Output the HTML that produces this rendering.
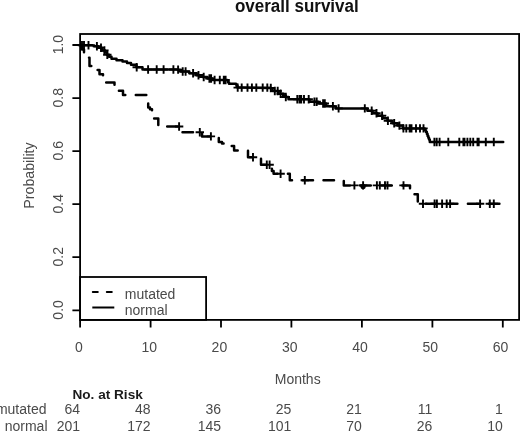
<!DOCTYPE html>
<html><head><meta charset="utf-8"><title>overall survival</title>
<style>html,body{margin:0;padding:0;background:#fff;width:520px;height:431px;overflow:hidden}svg{display:block;will-change:transform}</style>
</head><body>
<svg width="520" height="431" viewBox="0 0 520 431">
<rect width="520" height="431" fill="#fff"/>
<text transform="translate(296.8,11.9) scale(0.945,1)" text-anchor="middle" style="font-family:'Liberation Sans',sans-serif;font-weight:bold;font-size:18px" fill="#111">overall survival</text>
<rect x="80.1" y="34" width="439" height="285.9" fill="none" stroke="#000" stroke-width="1.8"/>
<path d="M72.4,310.3H80.1M72.4,257.2H80.1M72.4,204.2H80.1M72.4,151.1H80.1M72.4,98.1H80.1M72.4,45.0H80.1" stroke="#000" stroke-width="1.8" fill="none"/>
<path d="M80.1,319.9V327.6M150.6,319.9V327.6M221.0,319.9V327.6M291.4,319.9V327.6M361.9,319.9V327.6M432.4,319.9V327.6M502.8,319.9V327.6" stroke="#000" stroke-width="1.8" fill="none"/>
<text transform="translate(63.2,309.9) rotate(-90)" text-anchor="middle" style="font-family:'Liberation Sans',sans-serif;font-size:14px" fill="#4a4a4a">0.0</text>
<text transform="translate(63.2,256.8) rotate(-90)" text-anchor="middle" style="font-family:'Liberation Sans',sans-serif;font-size:14px" fill="#4a4a4a">0.2</text>
<text transform="translate(63.2,203.8) rotate(-90)" text-anchor="middle" style="font-family:'Liberation Sans',sans-serif;font-size:14px" fill="#4a4a4a">0.4</text>
<text transform="translate(63.2,150.7) rotate(-90)" text-anchor="middle" style="font-family:'Liberation Sans',sans-serif;font-size:14px" fill="#4a4a4a">0.6</text>
<text transform="translate(63.2,97.7) rotate(-90)" text-anchor="middle" style="font-family:'Liberation Sans',sans-serif;font-size:14px" fill="#4a4a4a">0.8</text>
<text transform="translate(63.2,44.6) rotate(-90)" text-anchor="middle" style="font-family:'Liberation Sans',sans-serif;font-size:14px" fill="#4a4a4a">1.0</text>
<text x="78.9" y="351.6" text-anchor="middle" style="font-family:'Liberation Sans',sans-serif;font-size:14px" fill="#4a4a4a">0</text>
<text x="149.2" y="351.6" text-anchor="middle" style="font-family:'Liberation Sans',sans-serif;font-size:14px" fill="#4a4a4a">10</text>
<text x="219.4" y="351.6" text-anchor="middle" style="font-family:'Liberation Sans',sans-serif;font-size:14px" fill="#4a4a4a">20</text>
<text x="289.7" y="351.6" text-anchor="middle" style="font-family:'Liberation Sans',sans-serif;font-size:14px" fill="#4a4a4a">30</text>
<text x="360.0" y="351.6" text-anchor="middle" style="font-family:'Liberation Sans',sans-serif;font-size:14px" fill="#4a4a4a">40</text>
<text x="430.2" y="351.6" text-anchor="middle" style="font-family:'Liberation Sans',sans-serif;font-size:14px" fill="#4a4a4a">50</text>
<text x="500.5" y="351.6" text-anchor="middle" style="font-family:'Liberation Sans',sans-serif;font-size:14px" fill="#4a4a4a">60</text>
<text x="297.7" y="384" text-anchor="middle" style="font-family:'Liberation Sans',sans-serif;font-size:14px" fill="#4a4a4a">Months</text>
<text transform="translate(34.1,175.5) rotate(-90)" text-anchor="middle" style="font-family:'Liberation Sans',sans-serif;font-size:14.2px" fill="#4a4a4a">Probability</text>
<path d="M80.0,45.2 L86.0,45.2 L92.0,45.3 L94.2,45.5 L94.2,46.2 L96.5,46.2 L98.2,46.2 L98.2,47.8 L100.0,47.8 L102.0,47.8 L102.0,50.5 L104.0,50.5 L105.0,50.5 L105.0,52.6 L107.0,52.6 L107.0,54.7 L109.0,54.7 L109.0,56.8 L110.0,56.8 L111.5,56.8 L111.5,58.8 L113.0,58.8 L116.5,58.8 L116.5,60.3 L120.0,60.3 L122.5,60.3 L122.5,61.5 L125.0,61.5 L127.0,61.5 L127.0,63.1 L131.0,63.1 L131.0,64.8 L133.0,64.8 L136.5,64.8 L136.5,67.3 L140.0,67.3 L142.5,67.3 L142.5,69.5 L145.0,69.5 L148.0,69.5 L176.0,69.6 L180.8,70.0 L180.8,71.5 L185.6,71.5 L189.3,71.5 L189.3,73.2 L193.1,73.2 L196.6,73.2 L196.6,75.3 L200.0,75.3 L202.5,75.3 L202.5,77.0 L205.0,77.0 L207.5,77.0 L207.5,78.5 L210.0,78.5 L212.5,78.5 L212.5,80.0 L215.0,80.0 L227.5,80.0 L228.0,80.6 L228.0,82.2 L229.0,82.2 L229.0,83.8 L229.5,83.8 L236.0,83.8 L236.5,84.2 L236.5,85.9 L237.5,85.9 L237.5,87.6 L238.0,87.6 L242.0,87.6 L270.0,88.0 L272.5,88.2 L272.5,91.0 L275.0,91.0 L278.5,91.0 L278.5,93.8 L282.0,93.8 L283.2,93.8 L283.2,95.4 L285.8,95.4 L285.8,97.0 L287.0,97.0 L288.5,97.0 L288.5,99.3 L290.0,99.3 L308.0,99.3 L309.5,99.4 L309.5,101.8 L311.0,101.8 L318.0,101.8 L318.0,103.5 L325.0,103.5 L326.2,103.5 L326.2,106.2 L327.5,106.2 L334.0,106.2 L335.8,106.8 L335.8,108.4 L337.5,108.4 L364.8,108.4 L367.4,108.4 L367.4,110.8 L370.0,110.8 L372.5,110.8 L372.5,113.3 L377.5,113.3 L377.5,115.8 L380.0,115.8 L382.5,115.8 L382.5,118.3 L387.5,118.3 L387.5,120.8 L390.0,120.8 L392.5,120.8 L392.5,123.2 L397.5,123.2 L397.5,125.6 L400.0,125.6 L403.0,125.6 L403.0,128.4 L406.0,128.4 L424.5,128.4 L425.0,128.6 L425.0,130.3 L426.0,130.3 L426.0,132.0 L426.5,132.0 L426.9,132.0 L426.9,134.0 L427.6,134.0 L427.6,136.0 L428.0,136.0 L428.3,136.0 L428.3,137.8 L429.0,137.8 L429.0,139.5 L429.3,139.5 L429.8,139.5 L429.8,142.0 L430.3,142.0 L503.2,142.0" stroke="#000" stroke-width="2.5" fill="none" stroke-linejoin="round" stroke-linecap="round"/>
<path d="M82.0,41.0V49.4M77.8,45.2H86.2M84.0,41.0V49.4M79.8,45.2H88.2M88.5,41.0V49.4M84.3,45.2H92.7M96.9,42.0V50.4M92.7,46.2H101.1M101.0,43.6V52.0M96.8,47.8H105.2M104.4,46.3V54.7M100.2,50.5H108.6M107.3,50.5V58.9M103.1,54.7H111.5M136.7,63.1V71.5M132.5,67.3H140.9M148.1,65.3V73.7M143.9,69.5H152.3M156.7,65.3V73.7M152.5,69.5H160.9M163.6,65.3V73.7M159.4,69.5H167.8M173.4,65.3V73.7M169.2,69.5H177.6M178.1,65.4V73.8M173.9,69.6H182.3M182.7,67.3V75.7M178.5,71.5H186.9M185.6,67.3V75.7M181.4,71.5H189.8M193.1,69.0V77.4M188.9,73.2H197.3M198.5,71.1V79.5M194.3,75.3H202.7M203.7,72.8V81.2M199.5,77.0H207.9M209.4,74.3V82.7M205.2,78.5H213.6M211.1,74.3V82.7M206.9,78.5H215.3M214.6,75.8V84.2M210.4,80.0H218.8M219.8,75.8V84.2M215.6,80.0H224.0M223.8,75.8V84.2M219.6,80.0H228.0M225.6,75.8V84.2M221.4,80.0H229.8M237.7,83.4V91.8M233.5,87.6H241.9M241.7,83.4V91.8M237.5,87.6H245.9M247.5,83.4V91.8M243.3,87.6H251.7M251.9,83.4V91.8M247.7,87.6H256.1M256.3,83.4V91.8M252.1,87.6H260.5M262.7,83.4V91.8M258.5,87.6H266.9M267.3,83.4V91.8M263.1,87.6H271.5M270.8,83.8V92.2M266.6,88.0H275.0M274.8,86.8V95.2M270.6,91.0H279.0M277.7,86.8V95.2M273.5,91.0H281.9M280.6,89.6V98.0M276.4,93.8H284.8M285.8,92.8V101.2M281.6,97.0H290.0M297.3,95.1V103.5M293.1,99.3H301.5M299.6,95.1V103.5M295.4,99.3H303.8M301.2,95.1V103.5M297.0,99.3H305.4M304.0,95.1V103.5M299.8,99.3H308.2M308.7,95.1V103.5M304.5,99.3H312.9M314.4,97.6V106.0M310.2,101.8H318.6M316.7,97.6V106.0M312.5,101.8H320.9M323.1,99.3V107.7M318.9,103.5H327.3M324.8,99.3V107.7M320.6,103.5H329.0M332.9,102.0V110.4M328.7,106.2H337.1M338.6,104.2V112.6M334.4,108.4H342.8M364.8,104.2V112.6M360.6,108.4H369.0M371.7,106.6V115.0M367.5,110.8H375.9M376.5,109.1V117.5M372.3,113.3H380.7M382.1,111.6V120.0M377.9,115.8H386.3M387.9,116.6V125.0M383.7,120.8H392.1M394.2,119.0V127.4M390.0,123.2H398.4M399.4,121.4V129.8M395.2,125.6H403.6M403.4,124.2V132.6M399.2,128.4H407.6M406.3,124.2V132.6M402.1,128.4H410.5M409.6,124.2V132.6M405.4,128.4H413.8M411.5,124.2V132.6M407.3,128.4H415.7M416.0,124.2V132.6M411.8,128.4H420.2M420.0,124.2V132.6M415.8,128.4H424.2M423.5,124.2V132.6M419.3,128.4H427.7M434.4,137.8V146.2M430.2,142.0H438.6M436.7,137.8V146.2M432.5,142.0H440.9M439.6,137.8V146.2M435.4,142.0H443.8M448.3,137.8V146.2M444.1,142.0H452.5M459.3,137.8V146.2M455.1,142.0H463.5M463.4,137.8V146.2M459.2,142.0H467.6M464.5,137.8V146.2M460.3,142.0H468.7M467.4,137.8V146.2M463.2,142.0H471.6M470.3,137.8V146.2M466.1,142.0H474.5M473.2,137.8V146.2M469.0,142.0H477.4M477.5,137.8V146.2M473.3,142.0H481.7M478.7,137.8V146.2M474.5,142.0H482.9M485.8,137.8V146.2M481.6,142.0H490.0M493.8,137.8V146.2M489.6,142.0H498.0" stroke="#000" stroke-width="1.9" fill="none"/>
<path d="M80.0,45.0 L82.0,45.0 L82.0,49.4 L84.0,49.4 L84.0,53.5 L88.0,53.5 L88.0,57.7 L89.5,57.7 L89.5,65.9 L97.0,65.9 L97.0,70.1 L99.5,70.1 L99.5,74.2 L103.0,74.2 L103.0,78.4 L105.5,78.4 L105.5,82.5 L114.5,82.5 L114.5,86.6 L118.5,86.6 L118.5,90.8 L123.0,90.8 L123.0,94.9 L148.2,94.9 L148.2,107.6 L150.0,107.6 L150.0,109.2 L152.0,109.2 L152.0,118.6 L158.3,118.6 L158.3,126.5 L180.5,126.5 L180.5,132.2 L202.0,132.2 L202.0,136.4 L218.8,136.4 L218.8,142.0 L222.0,142.0 L222.0,143.6 L229.5,143.6 L229.5,146.0 L234.1,146.0 L234.1,150.5 L248.0,150.5 L248.0,157.2 L261.0,157.2 L261.0,164.8 L271.9,164.8 L271.9,171.0 L273.6,171.0 L273.6,173.8 L289.8,173.8 L289.8,180.2 L343.8,180.2 L343.8,185.4 L410.0,185.4 L410.0,194.2 L417.8,194.2 L417.8,203.8 L500.5,203.8" stroke="#000" stroke-width="2.5" fill="none" stroke-dasharray="10.5 10.5" stroke-dashoffset="-0.7" stroke-linecap="round" stroke-linejoin="round"/>
<path d="M179.1,122.3V130.7M174.9,126.5H183.3M199.8,128.0V136.4M195.6,132.2H204.0M210.9,132.2V140.6M206.7,136.4H215.1M253.0,153.0V161.4M248.8,157.2H257.2M266.8,160.6V169.0M262.6,164.8H271.0M269.6,160.6V169.0M265.4,164.8H273.8M280.6,169.6V178.0M276.4,173.8H284.8M304.8,176.0V184.4M300.6,180.2H309.0M354.4,181.2V189.6M350.2,185.4H358.6M363.1,181.2V189.6M358.9,185.4H367.3M376.9,181.2V189.6M372.7,185.4H381.1M379.8,181.2V189.6M375.6,185.4H384.0M385.0,181.2V189.6M380.8,185.4H389.2M387.5,181.2V189.6M383.3,185.4H391.7M403.5,181.2V189.6M399.3,185.4H407.7M423.0,199.6V208.0M418.8,203.8H427.2M434.6,199.6V208.0M430.4,203.8H438.8M436.9,199.6V208.0M432.7,203.8H441.1M442.1,199.6V208.0M437.9,203.8H446.3M446.7,199.6V208.0M442.5,203.8H450.9M450.1,199.6V208.0M445.9,203.8H454.3M480.1,199.6V208.0M475.9,203.8H484.3M489.8,199.6V208.0M485.6,203.8H494.0M493.8,199.6V208.0M489.6,203.8H498.0" stroke="#000" stroke-width="1.9" fill="none"/>
<circle cx="363.1" cy="186.6" r="2.6" fill="#000"/>
<rect x="80.1" y="277" width="126" height="42.9" fill="#fff" stroke="#000" stroke-width="1.8"/>
<path d="M92.8,292H113.2" stroke="#000" stroke-width="2" stroke-dasharray="5 9" stroke-linecap="round"/>
<path d="M92.3,307.5H114.3" stroke="#000" stroke-width="2"/>
<text x="124.8" y="298.9" style="font-family:'Liberation Sans',sans-serif;font-size:14px" fill="#4a4a4a">mutated</text>
<text x="124.8" y="314.5" style="font-family:'Liberation Sans',sans-serif;font-size:14px" fill="#4a4a4a">normal</text>
<text x="72.5" y="398.7" style="font-family:'Liberation Sans',sans-serif;font-weight:bold;font-size:13.6px" fill="#1a1a1a">No. at Risk</text>
<text x="46.5" y="414.2" text-anchor="end" style="font-family:'Liberation Sans',sans-serif;font-size:14px" fill="#4a4a4a">mutated</text>
<text x="47.5" y="430.8" text-anchor="end" style="font-family:'Liberation Sans',sans-serif;font-size:14px" fill="#4a4a4a">normal</text>
<text x="80.1" y="414.2" text-anchor="end" style="font-family:'Liberation Sans',sans-serif;font-size:14px" fill="#4a4a4a">64</text>
<text x="80.1" y="431" text-anchor="end" style="font-family:'Liberation Sans',sans-serif;font-size:14px" fill="#4a4a4a">201</text>
<text x="150.6" y="414.2" text-anchor="end" style="font-family:'Liberation Sans',sans-serif;font-size:14px" fill="#4a4a4a">48</text>
<text x="150.6" y="431" text-anchor="end" style="font-family:'Liberation Sans',sans-serif;font-size:14px" fill="#4a4a4a">172</text>
<text x="221.0" y="414.2" text-anchor="end" style="font-family:'Liberation Sans',sans-serif;font-size:14px" fill="#4a4a4a">36</text>
<text x="221.0" y="431" text-anchor="end" style="font-family:'Liberation Sans',sans-serif;font-size:14px" fill="#4a4a4a">145</text>
<text x="291.4" y="414.2" text-anchor="end" style="font-family:'Liberation Sans',sans-serif;font-size:14px" fill="#4a4a4a">25</text>
<text x="291.4" y="431" text-anchor="end" style="font-family:'Liberation Sans',sans-serif;font-size:14px" fill="#4a4a4a">101</text>
<text x="361.9" y="414.2" text-anchor="end" style="font-family:'Liberation Sans',sans-serif;font-size:14px" fill="#4a4a4a">21</text>
<text x="361.9" y="431" text-anchor="end" style="font-family:'Liberation Sans',sans-serif;font-size:14px" fill="#4a4a4a">70</text>
<text x="432.4" y="414.2" text-anchor="end" style="font-family:'Liberation Sans',sans-serif;font-size:14px" fill="#4a4a4a">11</text>
<text x="432.4" y="431" text-anchor="end" style="font-family:'Liberation Sans',sans-serif;font-size:14px" fill="#4a4a4a">26</text>
<text x="502.8" y="414.2" text-anchor="end" style="font-family:'Liberation Sans',sans-serif;font-size:14px" fill="#4a4a4a">1</text>
<text x="502.8" y="431" text-anchor="end" style="font-family:'Liberation Sans',sans-serif;font-size:14px" fill="#4a4a4a">10</text>
</svg>
</body></html>
